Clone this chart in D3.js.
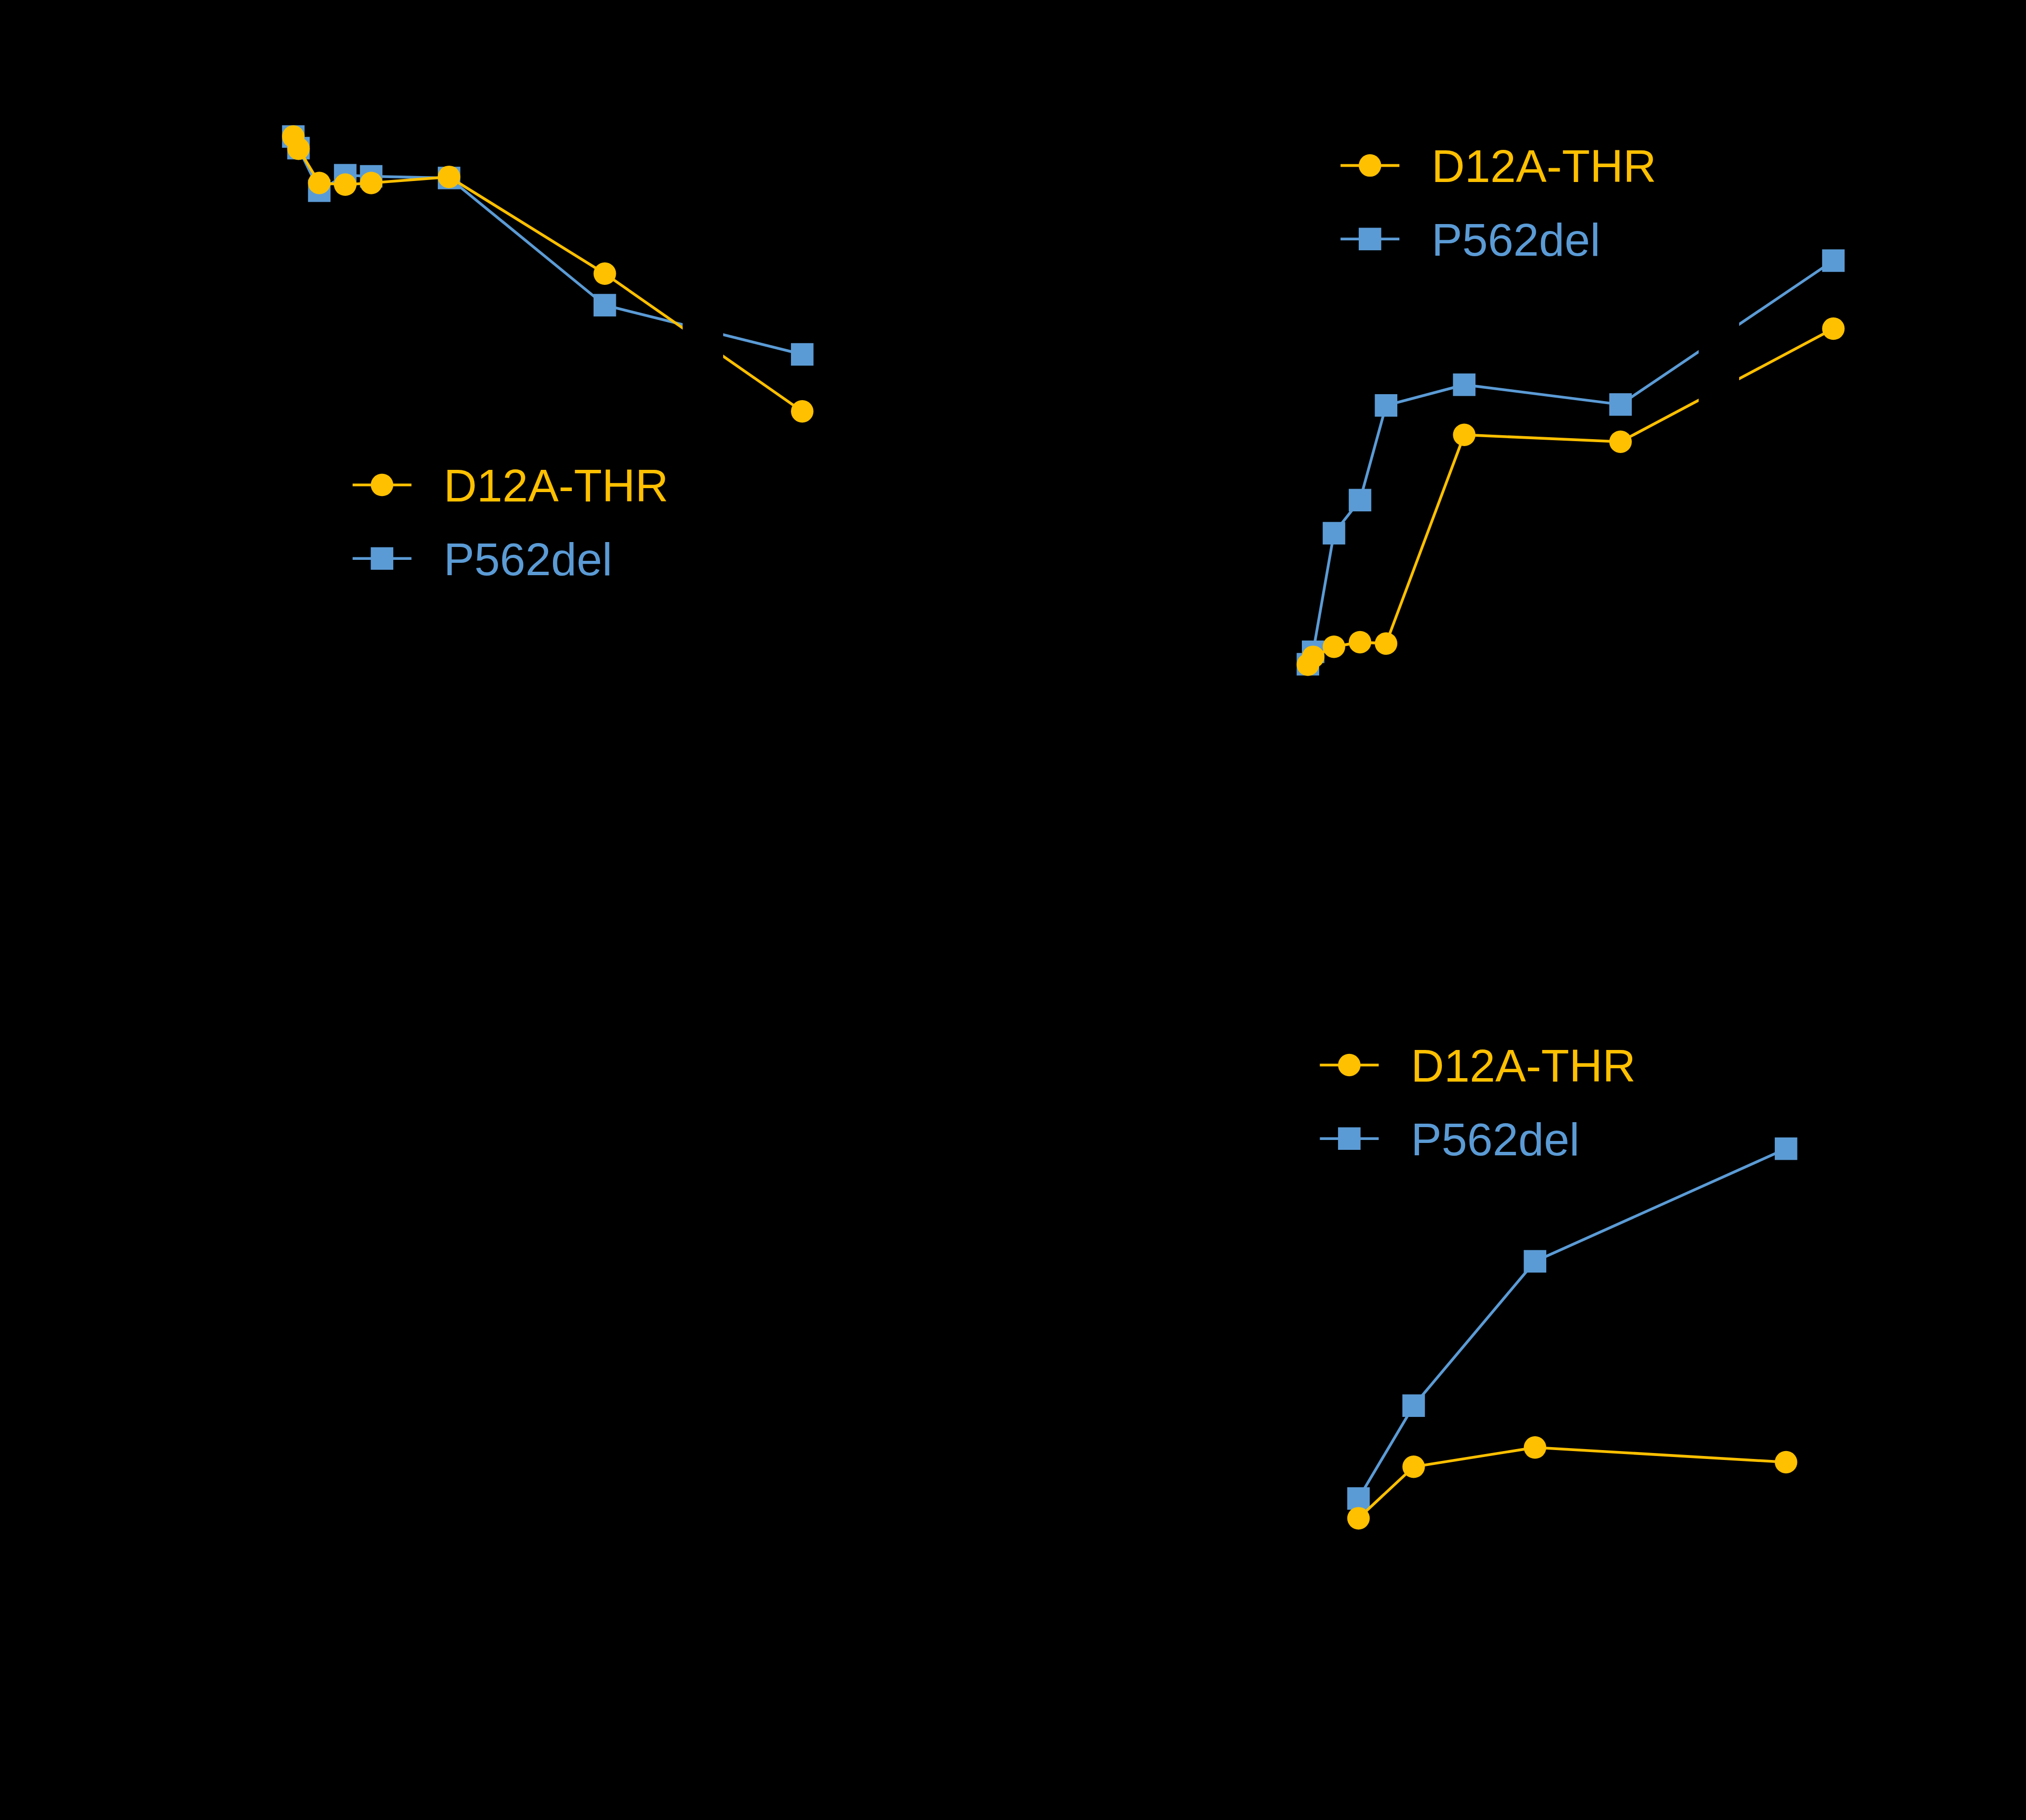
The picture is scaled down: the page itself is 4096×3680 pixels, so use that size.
<!DOCTYPE html>
<html>
<head>
<meta charset="utf-8">
<script src="https://cdn.jsdelivr.net/npm/d3@7"></script>
<style>
  html, body { margin: 0; padding: 0; background: #000; }
  svg { display: block; }
</style>
</head>
<body>
<script>
// ---------- data ----------
const seriesNames = ["D12A-THR", "P562del"];
const seriesColors = ["#FFC000", "#5B9BD5"];

const timesA = [0, 1, 5, 10, 15, 30, 60, 120];
const d12aA  = [100, 97.8, 91.6, 91.3, 91.6, 92.7, 75.2, 50.3];
const p562A  = [100, 97.9, 90.2, 93.0, 92.8, 92.5, 69.5, 60.6];

const timesB = [0, 1, 5, 10, 15, 30, 60, 120];
const d12aB  = [0.4, 2.1, 4.3, 5.3, 5.0, 50.4, 48.9, 73.5];
const p562B  = [0.5, 3.2, 29.0, 36.2, 56.8, 61.3, 57.0, 88.3];

const concC  = [0, 1, 3.2, 7.75];
const d12aC  = [4.7, 15.9, 20.1, 16.9];
const p562C  = [9.0, 29.2, 60.6, 85.1];

const xTicksAB = [0, 15, 30, 45, 60, 75, 105, 120];
const yTicks   = [0, 20, 40, 60, 80, 100];
const xTicksC  = [0, 2, 4, 6, 8];

// ---------- layout ----------
const W = 4096, H = 3680, REF_W = 4407;
const k = W / REF_W;

const svg = d3.select("body").append("svg")
  .attr("width", W).attr("height", H);
svg.append("rect").attr("width", W).attr("height", H).attr("fill", "#000");

const root = svg.append("g").attr("transform", `scale(${k})`);
const FONT = "'Liberation Sans', Arial, Helvetica, sans-serif";

function panel(cfg) {
  const g = root.append("g");
  const x = d3.scaleLinear().domain(cfg.xDomain).range(cfg.xRange);
  const y = d3.scaleLinear().domain([0, 100]).range(cfg.yRange);

  // axes (black, as in the reference)
  const xAxis = g.append("g")
    .attr("transform", `translate(0,${cfg.axisY})`)
    .call(d3.axisBottom(x).tickValues(cfg.xTicks).tickSize(14))
    .attr("color", "#000");
  xAxis.selectAll("text").attr("font-size", 60).attr("font-family", FONT).attr("fill", "#000");
  const yAxis = g.append("g")
    .attr("transform", `translate(${cfg.axisX},0)`)
    .call(d3.axisLeft(y).tickValues(yTicks).tickSize(14))
    .attr("color", "#000");
  yAxis.selectAll("text").attr("font-size", 60).attr("font-family", FONT).attr("fill", "#000");
  g.selectAll(".domain").attr("stroke-width", 5);

  // series: blue first, then yellow on top
  const series = [
    { name: seriesNames[1], color: seriesColors[1], vals: cfg.blue, shape: "square" },
    { name: seriesNames[0], color: seriesColors[0], vals: cfg.yellow, shape: "circle" }
  ];
  const line = d3.line().x(d => x(d[0])).y(d => y(d[1]));
  series.forEach(s => {
    const pts = cfg.xs.map((xv, i) => [xv, s.vals[i]]);
    g.append("path").datum(pts)
      .attr("d", line).attr("fill", "none")
      .attr("stroke", s.color).attr("stroke-width", 6);
    if (s.shape === "circle") {
      g.selectAll(null).data(pts).enter().append("circle")
        .attr("cx", d => x(d[0])).attr("cy", d => y(d[1]))
        .attr("r", 24.5).attr("fill", s.color);
    } else {
      g.selectAll(null).data(pts).enter().append("rect")
        .attr("x", d => x(d[0]) - 24.5).attr("y", d => y(d[1]) - 24.5)
        .attr("width", 49).attr("height", 49).attr("fill", s.color);
    }
  });

  // axis break (black band)
  if (cfg.brk) {
    g.append("rect")
      .attr("x", x(cfg.brk[0])).attr("width", x(cfg.brk[1]) - x(cfg.brk[0]))
      .attr("y", y(100) - 150).attr("height", cfg.axisY - y(100) + 150)
      .attr("fill", "#000");
  }

  // legend
  const lg = g.append("g").attr("transform", `translate(${cfg.legend[0]},${cfg.legend[1]})`);
  [0, 1].forEach(i => {
    const row = lg.append("g").attr("transform", `translate(0,${i * 160})`);
    row.append("line").attr("x1", -64).attr("x2", 64)
      .attr("stroke", seriesColors[i]).attr("stroke-width", 6);
    if (i === 0) {
      row.append("circle").attr("r", 24.5).attr("fill", seriesColors[i]);
    } else {
      row.append("rect").attr("x", -24.5).attr("y", -24.5)
        .attr("width", 49).attr("height", 49).attr("fill", seriesColors[i]);
    }
    row.append("text").attr("x", 134).attr("y", 36)
      .attr("font-family", FONT).attr("font-size", 100)
      .attr("fill", seriesColors[i]).text(seriesNames[i]);
  });
}

panel({
  xs: timesA, yellow: d12aA, blue: p562A,
  xDomain: [0, 75, 105, 120], xRange: [638, 1485, 1573, 1745],
  yRange: [1500, 297], axisY: 1560, axisX: 560,
  xTicks: xTicksAB, brk: [75, 105], legend: [831, 1055]
});

panel({
  xs: timesB, yellow: d12aB, blue: p562B,
  xDomain: [0, 75, 105, 120], xRange: [2845, 3695, 3783, 3988],
  yRange: [1450, 450], axisY: 1560, axisX: 2770,
  xTicks: xTicksAB, brk: [75, 105], legend: [2980, 360]
});

panel({
  xs: concC, yellow: d12aC, blue: p562C,
  xDomain: [0, 8], xRange: [2955, 3915],
  yRange: [3350, 2350], axisY: 3420, axisX: 2880,
  xTicks: xTicksC, brk: null, legend: [2935, 2317]
});
</script>
</body>
</html>
